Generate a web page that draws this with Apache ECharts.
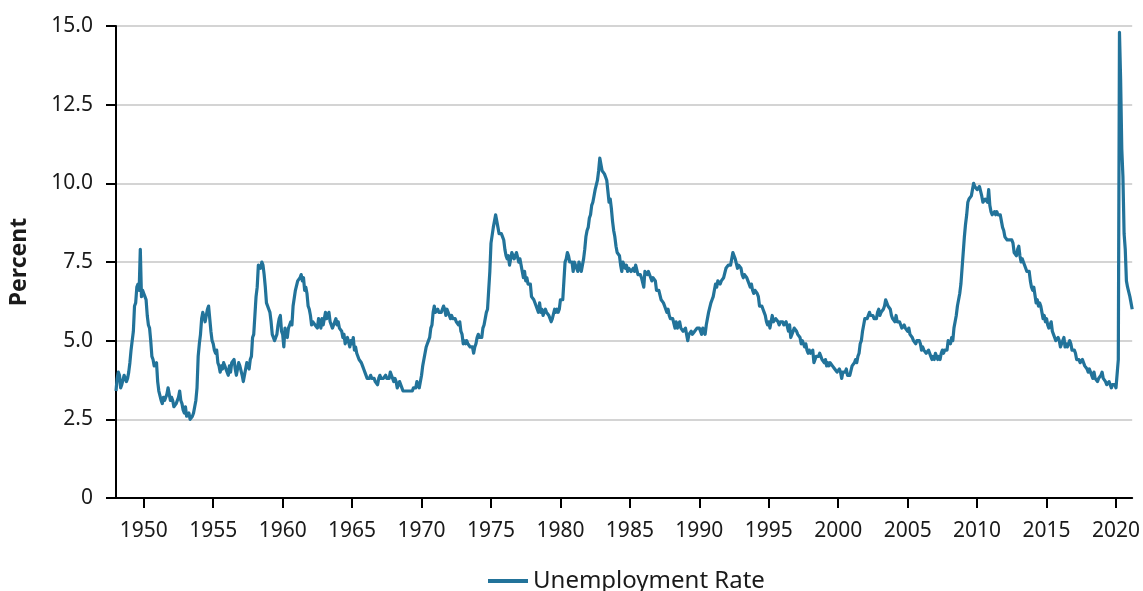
<!DOCTYPE html>
<html>
<head>
<meta charset="utf-8">
<script src="https://cdn.jsdelivr.net/npm/echarts@6/dist/echarts.min.js"></script>
<style>
  html, body { margin: 0; padding: 0; background: #fff; }
  #chart { width: 1143px; height: 591px; }
</style>
</head>
<body>
<div id="chart"></div>
<script>
// monthly unemployment rate, Jan 1948 - Mar 2021 (percent)
const rate1940s = [
  3.4, 3.8, 4.0, 3.9, 3.5, 3.6, 3.6, 3.9, 3.8, 3.7, 3.8, 4.0,
  4.3, 4.7, 5.0, 5.3, 6.1, 6.2, 6.7, 6.8, 6.6, 7.9, 6.4, 6.6
]
const rate1950s = [
  6.5, 6.4, 6.3, 5.8, 5.5, 5.4, 5.0, 4.5, 4.4, 4.2, 4.2, 4.3,
  3.7, 3.4, 3.4, 3.1, 3.0, 3.2, 3.1, 3.1, 3.3, 3.5, 3.5, 3.1,
  3.2, 3.1, 2.9, 2.9, 3.0, 3.0, 3.2, 3.4, 3.1, 3.0, 2.8, 2.7,
  2.9, 2.6, 2.6, 2.7, 2.5, 2.5, 2.6, 2.7, 2.9, 3.1, 3.5, 4.5,
  4.9, 5.2, 5.7, 5.9, 5.9, 5.6, 5.8, 6.0, 6.1, 5.7, 5.3, 5.0,
  4.9, 4.7, 4.6, 4.7, 4.3, 4.2, 4.0, 4.2, 4.1, 4.3, 4.2, 4.2,
  4.0, 3.9, 4.2, 4.0, 4.3, 4.3, 4.4, 4.1, 3.9, 3.9, 4.3, 4.2,
  4.2, 3.9, 3.7, 3.9, 4.1, 4.3, 4.2, 4.1, 4.4, 4.5, 5.1, 5.2,
  5.8, 6.4, 6.7, 7.4, 7.4, 7.3, 7.5, 7.4, 7.1, 6.7, 6.2, 6.2,
  6.0, 5.9, 5.6, 5.2, 5.1, 5.0, 5.1, 5.2, 5.5, 5.7, 5.8, 5.3
]
const rate1960s = [
  5.2, 4.8, 5.4, 5.2, 5.1, 5.4, 5.5, 5.6, 5.5, 6.1, 6.1, 6.6,
  6.6, 6.9, 6.9, 7.0, 7.1, 6.9, 7.0, 6.6, 6.7, 6.5, 6.1, 6.0,
  5.8, 5.5, 5.6, 5.6, 5.5, 5.5, 5.4, 5.7, 5.6, 5.4, 5.7, 5.5,
  5.7, 5.9, 5.7, 5.7, 5.9, 5.6, 5.6, 5.4, 5.5, 5.5, 5.7, 5.5,
  5.6, 5.4, 5.4, 5.3, 5.1, 5.2, 4.9, 5.0, 5.1, 5.1, 4.8, 5.0,
  4.9, 5.1, 4.7, 4.8, 4.6, 4.6, 4.4, 4.4, 4.3, 4.2, 4.1, 4.0,
  4.0, 3.8, 3.8, 3.8, 3.9, 3.8, 3.8, 3.8, 3.7, 3.7, 3.6, 3.8,
  3.9, 3.8, 3.8, 3.8, 3.8, 3.9, 3.8, 3.8, 3.8, 4.0, 3.9, 3.8,
  3.7, 3.8, 3.7, 3.5, 3.5, 3.7, 3.7, 3.5, 3.4, 3.4, 3.4, 3.4,
  3.4, 3.4, 3.4, 3.4, 3.4, 3.5, 3.5, 3.5, 3.7, 3.7, 3.5, 3.5
]
const rate1970s = [
  3.9, 4.2, 4.4, 4.6, 4.8, 4.9, 5.0, 5.1, 5.4, 5.5, 5.9, 6.1,
  5.9, 5.9, 6.0, 5.9, 5.9, 5.9, 6.0, 6.1, 6.0, 5.8, 6.0, 6.0,
  5.8, 5.7, 5.8, 5.7, 5.7, 5.7, 5.6, 5.6, 5.5, 5.6, 5.3, 5.2,
  4.9, 5.0, 4.9, 5.0, 4.9, 4.9, 4.8, 4.8, 4.8, 4.6, 4.8, 4.9,
  5.1, 5.2, 5.1, 5.1, 5.1, 5.4, 5.5, 5.5, 5.9, 6.0, 6.6, 7.2,
  8.1, 8.1, 8.6, 8.8, 9.0, 8.8, 8.6, 8.4, 8.4, 8.4, 8.3, 8.2,
  7.9, 7.7, 7.6, 7.7, 7.4, 7.6, 7.8, 7.8, 7.6, 7.7, 7.8, 7.8,
  7.5, 7.6, 7.4, 7.2, 7.0, 7.2, 6.9, 7.0, 6.8, 6.8, 6.8, 6.4,
  6.4, 6.3, 6.3, 6.1, 6.0, 5.9, 6.2, 5.9, 6.0, 5.8, 5.9, 6.0,
  5.9, 5.9, 5.8, 5.8, 5.6, 5.7, 5.7, 6.0, 5.9, 6.0, 5.9, 6.0
]
const rate1980s = [
  6.3, 6.3, 6.3, 6.9, 7.5, 7.6, 7.8, 7.7, 7.5, 7.5, 7.5, 7.2,
  7.5, 7.4, 7.4, 7.2, 7.5, 7.5, 7.2, 7.4, 7.6, 7.9, 8.3, 8.5,
  8.6, 8.9, 9.0, 9.3, 9.4, 9.6, 9.8, 9.8, 10.1, 10.4, 10.8, 10.8,
  10.4, 10.4, 10.3, 10.2, 10.1, 10.1, 9.4, 9.5, 9.2, 8.8, 8.5, 8.3,
  8.0, 7.8, 7.8, 7.7, 7.4, 7.2, 7.5, 7.5, 7.3, 7.4, 7.2, 7.3,
  7.3, 7.2, 7.2, 7.3, 7.2, 7.4, 7.4, 7.1, 7.1, 7.1, 7.0, 7.0,
  6.7, 7.2, 7.2, 7.1, 7.2, 7.2, 7.0, 6.9, 7.0, 7.0, 6.9, 6.6,
  6.6, 6.6, 6.6, 6.3, 6.3, 6.2, 6.1, 6.0, 5.9, 6.0, 5.8, 5.7,
  5.7, 5.7, 5.7, 5.4, 5.6, 5.4, 5.4, 5.6, 5.4, 5.4, 5.3, 5.3,
  5.4, 5.2, 5.0, 5.2, 5.2, 5.3, 5.2, 5.2, 5.3, 5.3, 5.4, 5.4
]
const rate1990s = [
  5.4, 5.3, 5.2, 5.4, 5.4, 5.2, 5.5, 5.7, 5.9, 5.9, 6.2, 6.3,
  6.4, 6.6, 6.8, 6.7, 6.9, 6.9, 6.8, 6.9, 6.9, 7.0, 7.0, 7.3,
  7.3, 7.4, 7.4, 7.4, 7.6, 7.8, 7.7, 7.6, 7.6, 7.3, 7.4, 7.4,
  7.3, 7.1, 7.0, 7.1, 7.1, 7.0, 6.9, 6.8, 6.7, 6.8, 6.6, 6.5,
  6.6, 6.6, 6.5, 6.4, 6.1, 6.1, 6.1, 6.0, 5.9, 5.8, 5.6, 5.5,
  5.6, 5.4, 5.4, 5.8, 5.6, 5.6, 5.7, 5.7, 5.6, 5.5, 5.6, 5.6,
  5.6, 5.5, 5.5, 5.6, 5.6, 5.3, 5.5, 5.1, 5.2, 5.2, 5.4, 5.4,
  5.3, 5.2, 5.2, 5.1, 4.9, 5.0, 4.9, 4.8, 4.9, 4.7, 4.6, 4.7,
  4.6, 4.6, 4.7, 4.3, 4.4, 4.5, 4.5, 4.5, 4.6, 4.5, 4.4, 4.4,
  4.3, 4.4, 4.2, 4.3, 4.2, 4.3, 4.3, 4.2, 4.2, 4.1, 4.1, 4.0
]
const rate2000s = [
  4.0, 4.1, 4.0, 3.8, 4.0, 4.0, 4.0, 4.1, 3.9, 3.9, 3.9, 3.9,
  4.2, 4.2, 4.3, 4.4, 4.3, 4.5, 4.6, 4.9, 5.0, 5.3, 5.5, 5.7,
  5.7, 5.7, 5.7, 5.9, 5.8, 5.8, 5.8, 5.7, 5.7, 5.7, 5.9, 6.0,
  5.8, 5.9, 5.9, 6.0, 6.1, 6.3, 6.2, 6.1, 6.1, 6.0, 5.8, 5.7,
  5.7, 5.6, 5.8, 5.6, 5.6, 5.6, 5.5, 5.4, 5.4, 5.5, 5.4, 5.4,
  5.3, 5.4, 5.2, 5.2, 5.1, 5.0, 5.0, 4.9, 5.0, 5.0, 5.0, 4.9,
  4.7, 4.8, 4.7, 4.7, 4.6, 4.6, 4.7, 4.7, 4.5, 4.4, 4.5, 4.4,
  4.6, 4.5, 4.4, 4.5, 4.4, 4.6, 4.7, 4.6, 4.7, 4.7, 4.7, 5.0,
  5.0, 4.9, 5.1, 5.0, 5.4, 5.6, 5.8, 6.1, 6.1, 6.5, 6.8, 7.3,
  7.8, 8.3, 8.7, 9.0, 9.4, 9.5, 9.5, 9.6, 9.8, 10.0, 9.9, 9.9
]
const rate2010s = [
  9.8, 9.8, 9.9, 9.9, 9.6, 9.4, 9.4, 9.5, 9.5, 9.4, 9.8, 9.3,
  9.1, 9.0, 9.0, 9.1, 9.0, 9.1, 9.0, 9.0, 9.0, 8.8, 8.6, 8.5,
  8.3, 8.3, 8.2, 8.2, 8.2, 8.2, 8.2, 8.1, 7.8, 7.8, 7.7, 7.9,
  8.0, 7.7, 7.5, 7.6, 7.5, 7.5, 7.3, 7.2, 7.2, 7.2, 6.9, 6.7,
  6.6, 6.7, 6.7, 6.2, 6.3, 6.1, 6.2, 6.1, 5.9, 5.7, 5.8, 5.6,
  5.7, 5.5, 5.4, 5.4, 5.6, 5.3, 5.2, 5.1, 5.0, 5.0, 5.1, 5.0,
  4.8, 4.9, 5.0, 5.1, 4.8, 4.9, 4.8, 4.9, 5.0, 4.9, 4.7, 4.7,
  4.7, 4.6, 4.4, 4.4, 4.4, 4.3, 4.3, 4.4, 4.3, 4.2, 4.2, 4.1,
  4.0, 4.1, 4.0, 4.0, 3.8, 4.0, 3.8, 3.8, 3.7, 3.8, 3.8, 3.9,
  4.0, 3.8, 3.8, 3.7, 3.6, 3.6, 3.7, 3.6, 3.5, 3.6, 3.6, 3.6
]
const rate2020s = [
  3.5, 3.5, 4.4, 14.8, 13.3, 11.1, 10.2, 8.4, 7.9, 6.9, 6.7, 6.7,
  6.4, 6.2, 6.0
]

const firstYear = 1948
const yTicks = [0, 2.5, 5, 7.5, 10, 12.5, 15]

const rates = [].concat(rate1940s, rate1950s, rate1960s, rate1970s,
  rate1980s, rate1990s, rate2000s, rate2010s, rate2020s)

// one category per month
const months = rates.map((v, i) => {
  const y = firstYear + Math.floor(i / 12)
  const m = (i % 12) + 1
  return y + '-' + (m < 10 ? '0' + m : m)
})

// only January of every fifth year gets a tick and a label
const showYear = (idx, val) => {
  const y = Number(val.slice(0, 4))
  return val.slice(5) === '01' && y % 5 === 0
}

const chart = echarts.init(document.getElementById('chart'))

const option = {
  animation: false,
  textStyle: { fontFamily: 'Noto Sans' },
  grid: { left: 115, right: 10, top: 26, bottom: 93, containLabel: false },
  legend: {
    left: 483,
    top: 564,
    itemWidth: 40,
    itemHeight: 4,
    itemGap: 9,
    icon: 'rect',
    textStyle: { fontSize: 24, color: '#1a1a1a', fontFamily: 'Noto Sans' },
    data: ['Unemployment Rate']
  },
  xAxis: {
    type: 'category',
    data: months,
    boundaryGap: false,
    axisLine: { lineStyle: { color: '#000', width: 2 } },
    axisTick: { interval: showYear, length: 10, lineStyle: { color: '#000', width: 2 } },
    axisLabel: {
      interval: showYear,
      formatter: v => v.slice(0, 4),
      fontSize: 21,
      color: '#1a1a1a',
      margin: 23
    },
    splitLine: { show: false }
  },
  yAxis: {
    type: 'value',
    min: yTicks[0],
    max: yTicks[yTicks.length - 1],
    interval: 2.5,
    name: 'Percent',
    nameLocation: 'middle',
    nameGap: 85,
    nameRotate: 90,
    nameTextStyle: { fontSize: 23, fontWeight: 'bold', color: '#1a1a1a' },
    axisLine: { show: true, lineStyle: { color: '#000', width: 2 } },
    axisTick: { show: true, length: 10, lineStyle: { color: '#000', width: 2 } },
    axisLabel: {
      fontSize: 21,
      color: '#1a1a1a',
      margin: 23,
      formatter: v => (v === 0 ? '0' : v.toFixed(1))
    },
    splitLine: { lineStyle: { color: '#c6c6c6', width: 1.5 } }
  },
  series: [
    {
      name: 'Unemployment Rate',
      type: 'line',
      data: rates,
      showSymbol: false,
      symbol: 'none',
      itemStyle: { color: '#22739a' },
      lineStyle: { color: '#22739a', width: 3.2, join: 'round' }
    }
  ]
}

chart.setOption(option)
</script>
</body>
</html>
